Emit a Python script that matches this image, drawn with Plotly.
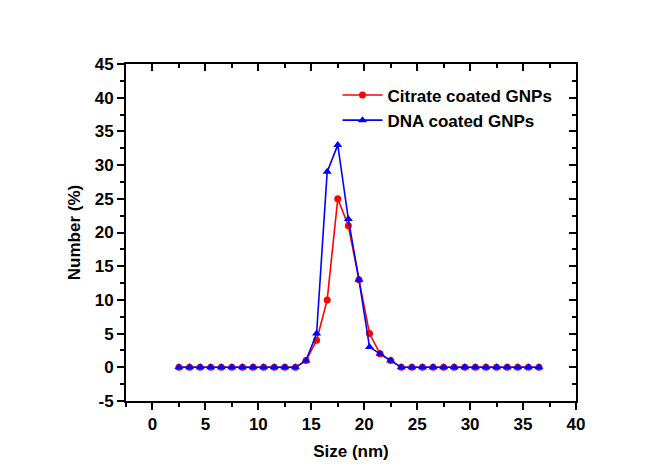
import plotly.graph_objects as go

size_nm = [2.5 + i for i in range(35)]
citrate = [0]*12 + [1, 4, 10, 25, 21, 13, 5, 2, 1] + [0]*14
dna = [0]*12 + [1, 5, 29, 33, 22, 13, 3, 2, 1] + [0]*14

x_ticks = [0, 5, 10, 15, 20, 25, 30, 35, 40]
y_ticks = [-5, 0, 5, 10, 15, 20, 25, 30, 35, 40, 45]

font_fam = "Liberation Sans, Arial, sans-serif"

fig = go.Figure()
fig.add_trace(go.Scatter(x=size_nm, y=citrate, mode="lines+markers",
                         name="<b>Citrate coated GNPs</b>",
                         line=dict(color="#ff0000", width=1.6),
                         marker=dict(symbol="circle", size=7, color="#ff0000")))
fig.add_trace(go.Scatter(x=size_nm, y=dna, mode="lines+markers",
                         name="<b>DNA coated GNPs</b>",
                         line=dict(color="#0000ff", width=1.6),
                         marker=dict(symbol="triangle-up", size=8, color="#0000ff")))
# invisible trace to activate mirror axes
fig.add_trace(go.Scatter(x=[None], y=[None], xaxis="x2", yaxis="y2",
                         showlegend=False, hoverinfo="skip"))

axis_common = dict(showgrid=False, zeroline=False, showline=True,
                   linecolor="black", linewidth=2, automargin=False)

fig.update_layout(
    width=646, height=458,
    paper_bgcolor="white", plot_bgcolor="white",
    margin=dict(l=118, r=78, t=56, b=65),
    font=dict(family=font_fam, color="black"),
    xaxis=dict(range=[-2.5, 40], tickvals=x_ticks,
               ticktext=[f"<b>{v}</b>" for v in x_ticks],
               ticks="outside", ticklen=7, tickwidth=2, tickcolor="black",
               tickfont=dict(size=17),
               minor=dict(dtick=2.5, tick0=0, ticks="outside", ticklen=4,
                          tickwidth=2, tickcolor="black"),
               title=dict(text="<b>Size (nm)</b>", font=dict(size=17), standoff=12),
               **axis_common),
    yaxis=dict(range=[-5, 45], tickvals=y_ticks,
               ticktext=[f"<b>{v}</b>" for v in y_ticks],
               ticks="outside", ticklen=7, tickwidth=2, tickcolor="black",
               tickfont=dict(size=17),
               minor=dict(dtick=2.5, tick0=0, ticks="outside", ticklen=4,
                          tickwidth=2, tickcolor="black"),
               title=dict(text="<b>Number (%)</b>", font=dict(size=17), standoff=10),
               **axis_common),
    xaxis2=dict(range=[-2.5, 40], overlaying="x", side="top", anchor="y",
                tickvals=x_ticks, showticklabels=False,
                ticks="inside", ticklen=7, tickwidth=2, tickcolor="black",
                minor=dict(dtick=2.5, tick0=0, ticks="inside", ticklen=4,
                           tickwidth=2, tickcolor="black"),
                **axis_common),
    yaxis2=dict(range=[-5, 45], overlaying="y", side="right", anchor="x",
                tickvals=y_ticks, showticklabels=False,
                ticks="inside", ticklen=7, tickwidth=2, tickcolor="black",
                minor=dict(dtick=2.5, tick0=0, ticks="inside", ticklen=4,
                           tickwidth=2, tickcolor="black"),
                **axis_common),
    legend=dict(x=0.47, y=0.96, xanchor="left", yanchor="top",
                bgcolor="rgba(0,0,0,0)", font=dict(size=17),
                tracegroupgap=0, itemwidth=40),
)

fig.write_html("out.html")
